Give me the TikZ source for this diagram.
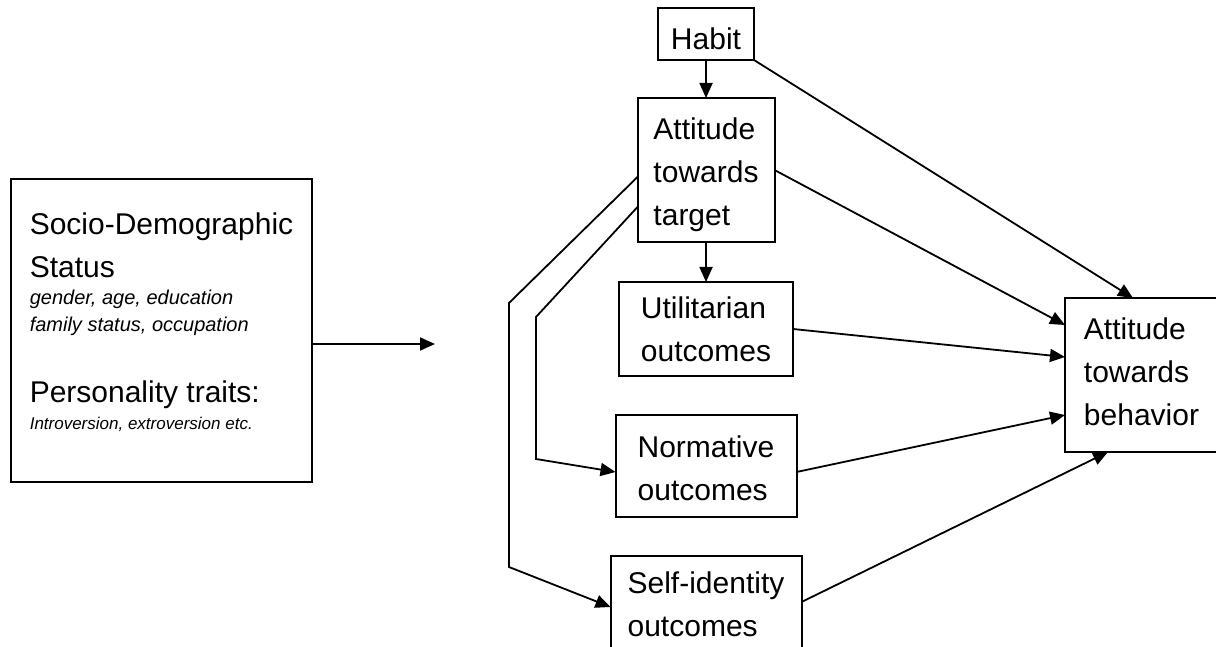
\documentclass[tikz,border=0pt]{standalone}
\usepackage{fontspec}
\setmainfont{Liberation Sans}
\usepackage{tikz}
\usetikzlibrary{positioning,arrows.meta}

\begin{document}
\begin{tikzpicture}[x=1pt, y=-1pt,
    box/.style={draw, rectangle, line width=2pt, outer sep=0pt, align=left, inner sep=0pt, font=\fontsize{30}{43}\selectfont},
    arr/.style={line width=1.8pt, -{Triangle[length=15pt,width=13pt]}}]
    \useasboundingbox (0,0) rectangle (1216,647);

    \node[box, minimum width=301pt, minimum height=303pt, text depth=18pt] (status) at (161.5,330.5)
        {Socio-Demographic\\Status\\[-16pt]{\fontsize{20}{24}\selectfont\itshape gender, age, education}\\[-16pt]{\fontsize{20}{24}\selectfont\itshape family status, occupation}\\[28pt]Personality traits:\\[-16pt]{\fontsize{17}{20}\selectfont\itshape Introversion, extroversion etc.}};
    \coordinate (statusout) at (435,344);

    \node[box, minimum width=96pt, minimum height=52pt, text height=32pt] (habit) at (706,34) {Habit};
    \node[box, minimum width=137pt, minimum height=144pt, text height=118pt, below=38pt of habit] (target) {Attitude\\towards\\target};
    \node[box, minimum width=174pt, minimum height=94pt, below=40pt of target] (util) {Utilitarian\\outcomes};
    \node[box, minimum width=181pt, minimum height=102pt, text height=69pt, below=39pt of util] (norm) {Normative\\outcomes};
    \node[box, minimum width=191pt, minimum height=96pt, below=39pt of norm] (self) {Self-identity\\outcomes};
    \node[box, minimum width=153pt, minimum height=154pt, text depth=6pt] (behavior) at (1141.5,375) {Attitude\\towards\\behavior};

    \draw[arr] (status.east |- statusout) -- (statusout);
    \draw[arr] (habit) -- (target);
    \draw[arr] (target) -- (util);
    \draw[arr] (habit.south east) -- ([xshift=-8.5pt]behavior.north);
    \draw[arr] (target.east) -- ([yshift=50pt]behavior.west);
    \draw[arr] (util.east) -- ([yshift=18pt]behavior.west);
    \draw[arr] ([yshift=-6pt]norm.east) -- ([yshift=-40pt]behavior.west);
    \draw[arr] ([yshift=2pt]self.east) -- ([xshift=-33.5pt]behavior.south);
    \draw[arr] ([yshift=-37pt]target.west) -- (536,317) -- (536,459) -- ([yshift=-6pt]norm.west);
    \draw[arr] ([yshift=-7pt]target.west) -- (509,303) -- (509,567) -- ([yshift=-3pt]self.west);
\end{tikzpicture}
\end{document}
